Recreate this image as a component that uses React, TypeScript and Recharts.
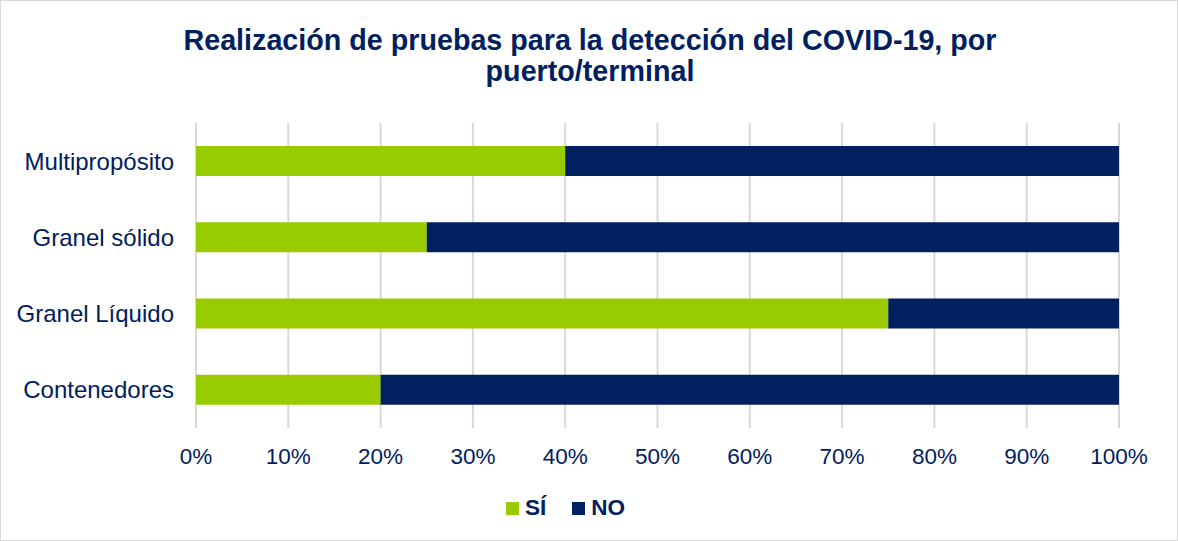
import { Bar, BarChart, CartesianGrid, Legend, XAxis, YAxis } from "recharts";

const categories = ["Multipropósito", "Granel sólido", "Granel Líquido", "Contenedores"];
const siValues = [40, 25, 75, 20];
const noValues = [60, 75, 25, 80];
const percentTicks = [0, 10, 20, 30, 40, 50, 60, 70, 80, 90, 100];
const legendOrder = ["SÍ", "NO"];

const GREEN = "#99cc00";
const NAVY = "#002060";
const TEXT = "#002060";
const GRID = "#d9d9d9";
const FONT = "'Liberation Sans', Arial, sans-serif";

const chartData = categories.map((name, i) => ({ name, si: siValues[i], no: noValues[i] }));

const LegendContent = (props: any) => {
  const items = [...(props.payload ?? [])].sort(
    (a: any, b: any) => legendOrder.indexOf(a.value) - legendOrder.indexOf(b.value)
  );
  return (
    <div style={{ textAlign: "center", paddingTop: 5, paddingLeft: 12, lineHeight: "24px" }}>
      {items.map((item: any, idx: number) => (
        <span
          key={item.value}
          style={{ display: "inline-flex", alignItems: "center", marginLeft: idx === 0 ? 0 : 26 }}
        >
          <span style={{ width: 13, height: 13, background: item.color, display: "inline-block", marginRight: 6 }} />
          <span style={{ fontWeight: "bold", fontSize: 22.5, color: TEXT }}>{item.value}</span>
        </span>
      ))}
    </div>
  );
};

export default function App() {
  return (
    <div
      style={{
        position: "absolute",
        top: 0,
        left: 0,
        width: 1178,
        height: 541,
        boxSizing: "border-box",
        border: "1px solid #d9d9d9",
        background: "#fff",
        fontFamily: FONT,
      }}
    >
      <div
        style={{
          position: "absolute",
          top: 24,
          left: 0,
          width: 1178,
          textAlign: "center",
          fontSize: 28.7,
          lineHeight: "31px",
          fontWeight: "bold",
          color: TEXT,
        }}
      >
        Realización de pruebas para la detección del COVID-19, por
        <br />
        puerto/terminal
      </div>
      <div style={{ position: "absolute", top: -1, left: -1 }}>
        <BarChart
          width={1178}
          height={541}
          data={chartData}
          layout="vertical"
          barSize={30}
          margin={{ top: 123, right: 59, bottom: 0, left: 0 }}
        >
          <CartesianGrid horizontal={false} vertical stroke={GRID} strokeWidth={2} />
          <XAxis
            type="number"
            domain={[0, 100]}
            ticks={percentTicks}
            tickFormatter={(v: number) => `${v}%`}
            axisLine={false}
            tickLine={false}
            tickSize={0}
            tickMargin={20}
            height={63}
            interval={0}
            tick={{ fill: TEXT, fontSize: 22.5, fontFamily: FONT }}
          />
          <YAxis
            type="category"
            dataKey="name"
            width={196}
            axisLine={false}
            tickLine={false}
            tickSize={0}
            tickMargin={22}
            tick={{ fill: TEXT, fontSize: 24, fontFamily: FONT }}
          />
          <Legend verticalAlign="bottom" height={50} content={<LegendContent />} />
          <Bar dataKey="si" name="SÍ" stackId="a" fill={GREEN} isAnimationActive={false} />
          <Bar dataKey="no" name="NO" stackId="a" fill={NAVY} isAnimationActive={false} />
        </BarChart>
      </div>
    </div>
  );
}
